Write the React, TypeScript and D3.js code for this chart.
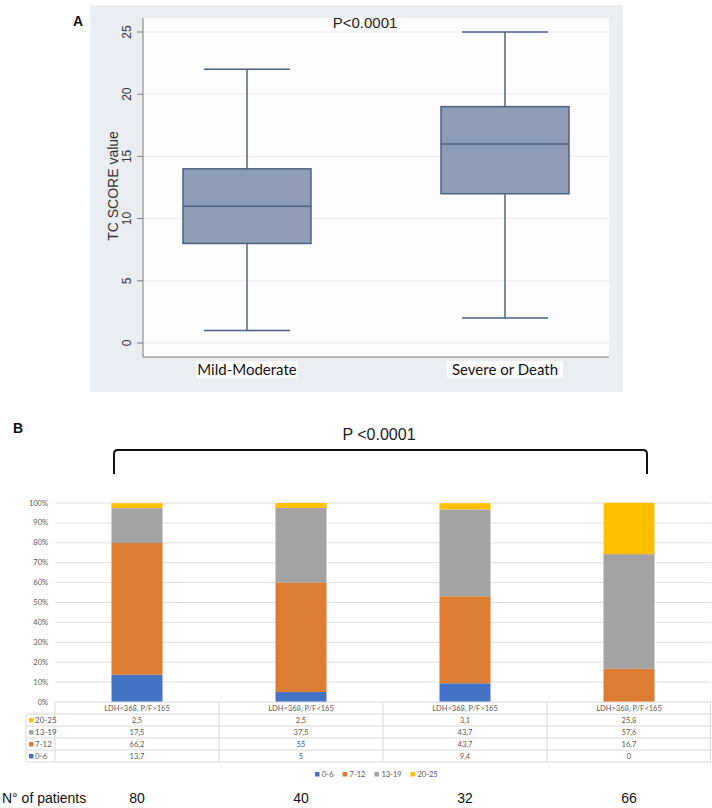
import React from "react";
import * as d3 from "d3";

// ---------- Panel A data ----------
const boxGroups = ["Mild-Moderate", "Severe or Death"];
const boxMin = [1, 2];
const boxQ1 = [8, 12];
const boxMedian = [11, 16];
const boxQ3 = [14, 19];
const boxMax = [22, 25];
const yTicksA = [0, 5, 10, 15, 20, 25];
const pValueA = "P<0.0001";

// ---------- Panel B data ----------
const categoriesB = ["LDH<368, P/F>165", "LDH<368, P/F<165", "LDH>368, P/F>165", "LDH>368, P/F<165"];
const seriesNames = ["0-6", "7-12", "13-19", "20-25"];
const s06 = [13.7, 5, 9.4, 0];
const s712 = [66.2, 55, 43.7, 16.7];
const s1319 = [17.5, 37.5, 43.7, 57.6];
const s2025 = [2.5, 2.5, 3.1, 25.8];
const seriesLabels = [["2,5", "2,5", "3,1", "25,8"], ["17,5", "37,5", "43,7", "57,6"], ["66,2", "55", "43,7", "16,7"], ["13,7", "5", "9,4", "0"]];
const tableRowNames = ["20-25", "13-19", "7-12", "0-6"];
const patients = [80, 40, 32, 66];
const yTicksB = [0, 10, 20, 30, 40, 50, 60, 70, 80, 90, 100];
const pValueB = "P <0.0001";

const colors: Record<string, string> = {
  "0-6": "#4472C4",
  "7-12": "#DD7D33",
  "13-19": "#A3A3A3",
  "20-25": "#FFC000",
};

const arial = "'Liberation Sans', Arial, sans-serif";
const calibri = "Lato, 'Open Sans', sans-serif";

function PanelA() {
  const left = 143, right = 609, top = 18, bottom = 357;
  const y = d3.scaleLinear().domain([0, 25]).range([343, 32]);
  const x = d3.scalePoint<string>().domain(boxGroups).range([left, right]).padding(0.403);
  const boxW = 128, capW = 86;
  const stroke = "#4a6282";
  return (
    <g>
      <rect x={90} y={5} width={533} height={387} fill="#EAEEF2" />
      <rect x={left} y={top} width={right - left} height={bottom - top} fill="#fdfdfd" />
      {yTicksA.map((t) => (
        <g key={t}>
          <line x1={left} x2={right} y1={y(t)} y2={y(t)} stroke="#ececec" strokeWidth={1} />
          <line x1={137} x2={left} y1={y(t)} y2={y(t)} stroke="#7a7a7a" strokeWidth={1} />
          <text
            transform={`translate(131,${y(t)}) rotate(-90)`}
            textAnchor="middle"
            fontFamily={arial}
            fontSize={12}
            fill="#333"
          >
            {t}
          </text>
        </g>
      ))}
      <line x1={left} x2={left} y1={top} y2={bottom} stroke="#7a7a7a" strokeWidth={1} />
      <line x1={left} x2={right} y1={bottom} y2={bottom} stroke="#7a7a7a" strokeWidth={1} />
      <text
        transform={`translate(118,186) rotate(-90)`}
        textAnchor="middle"
        fontFamily={arial}
        fontSize={14}
        fill="#333"
      >
        TC SCORE value
      </text>
      {boxGroups.map((g, i) => {
        const cx = x(g) as number;
        const bgW = g.length * 7.6 + 2;
        return (
          <g key={g}>
            <line x1={cx} x2={cx} y1={y(boxMax[i])} y2={y(boxQ3[i])} stroke={stroke} strokeWidth={1.5} />
            <line x1={cx} x2={cx} y1={y(boxQ1[i])} y2={y(boxMin[i])} stroke={stroke} strokeWidth={1.5} />
            <line x1={cx - capW / 2} x2={cx + capW / 2} y1={y(boxMax[i])} y2={y(boxMax[i])} stroke={stroke} strokeWidth={1.5} />
            <line x1={cx - capW / 2} x2={cx + capW / 2} y1={y(boxMin[i])} y2={y(boxMin[i])} stroke={stroke} strokeWidth={1.5} />
            <rect
              x={cx - boxW / 2}
              y={y(boxQ3[i])}
              width={boxW}
              height={y(boxQ1[i]) - y(boxQ3[i])}
              fill="#8f9db7"
              stroke={stroke}
              strokeWidth={1.5}
            />
            <line x1={cx - boxW / 2} x2={cx + boxW / 2} y1={y(boxMedian[i])} y2={y(boxMedian[i])} stroke={stroke} strokeWidth={1.5} />
            <rect x={cx - bgW / 2} y={361} width={bgW} height={17} fill="#ffffff" />
            <text x={cx} y={375} textAnchor="middle" fontFamily={calibri} fontSize={15} fill="#111">
              {g}
            </text>
          </g>
        );
      })}
      <text x={365} y={28} textAnchor="middle" fontFamily={arial} fontSize={15} fill="#222">
        {pValueA}
      </text>
      <text x={73} y={26} fontFamily={arial} fontSize={14} fontWeight="bold" fill="#111">
        A
      </text>
    </g>
  );
}

function PanelB() {
  const left = 55, right = 711, top = 503, bottom = 702;
  const x = d3.scaleBand<string>().domain(categoriesB).range([left, right]);
  const y = d3.scaleLinear().domain([0, 100]).range([bottom, top]);
  const barW = 51;
  const rows = categoriesB.map((c, i) => ({
    cat: c,
    "0-6": s06[i],
    "7-12": s712[i],
    "13-19": s1319[i],
    "20-25": s2025[i],
  }));
  const stack = d3.stack<any>().keys(seriesNames)(rows);
  const tickColor = "#595959";
  const tableRowH = 12;
  const tableTop = bottom;
  const legendItems = seriesNames.map((s, i) => ({ s, i }));
  let lx = 315;
  const legendPos = legendItems.map((it) => {
    const pos = lx;
    lx += 5 + 3 + it.s.length * 4.2 + 7;
    return pos;
  });
  return (
    <g>
      <text x={13} y={433} fontFamily={arial} fontSize={14} fontWeight="bold" fill="#111">
        B
      </text>
      <text x={379} y={440} textAnchor="middle" fontFamily={arial} fontSize={16} fill="#222">
        {pValueB}
      </text>
      <path
        d={`M114,474 L114,454 Q114,450 118,450 L643,450 Q647,450 647,454 L647,474`}
        fill="none"
        stroke="#111"
        strokeWidth={2}
      />
      {yTicksB.map((t) => (
        <g key={t}>
          {t > 0 && <line x1={left} x2={right} y1={y(t)} y2={y(t)} stroke="#e0e0e0" strokeWidth={1} />}
          <text x={48} y={y(t) + 2.5} textAnchor="end" fontFamily={calibri} fontSize={7.5} fill={tickColor}>
            {t}%
          </text>
        </g>
      ))}
      {stack.map((layer) => (
        <g key={layer.key} fill={colors[layer.key]}>
          {layer.map((d, j) => (
            <rect
              key={j}
              x={(x(categoriesB[j]) as number) + x.bandwidth() / 2 - barW / 2}
              y={y(d[1])}
              width={barW}
              height={Math.max(0, y(d[0]) - y(d[1]))}
            />
          ))}
        </g>
      ))}
      {/* data table */}
      <line x1={left} x2={right} y1={tableTop} y2={tableTop} stroke="#d9d9d9" strokeWidth={1} />
      {[1, 2, 3, 4, 5].map((r) => (
        <line
          key={r}
          x1={26}
          x2={right}
          y1={tableTop + r * tableRowH}
          y2={tableTop + r * tableRowH}
          stroke="#d9d9d9"
          strokeWidth={1}
        />
      ))}
      <line x1={26} x2={26} y1={tableTop + tableRowH} y2={tableTop + 5 * tableRowH} stroke="#d9d9d9" strokeWidth={1} />
      {categoriesB.map((c) => (
        <line
          key={c}
          x1={x(c) as number}
          x2={x(c) as number}
          y1={tableTop}
          y2={tableTop + 5 * tableRowH}
          stroke="#d9d9d9"
          strokeWidth={1}
        />
      ))}
      <line x1={right - 0.5} x2={right - 0.5} y1={tableTop} y2={tableTop + 5 * tableRowH} stroke="#d9d9d9" strokeWidth={1} />
      {categoriesB.map((c) => (
        <text
          key={c}
          x={(x(c) as number) + x.bandwidth() / 2}
          y={tableTop + 8.5}
          textAnchor="middle"
          fontFamily={calibri}
          fontSize={7.5}
          fill={tickColor}
        >
          {c}
        </text>
      ))}
      {tableRowNames.map((rn, r) => (
        <g key={rn}>
          <rect x={29} y={tableTop + (r + 1) * tableRowH + 4} width={4.5} height={4.5} fill={colors[rn]} />
          <text x={35} y={tableTop + (r + 1) * tableRowH + 8.8} fontFamily={calibri} fontSize={8} fill={tickColor}>
            {rn}
          </text>
          {categoriesB.map((c, j) => (
            <text
              key={c}
              x={(x(c) as number) + x.bandwidth() / 2}
              y={tableTop + (r + 1) * tableRowH + 8.8}
              textAnchor="middle"
              fontFamily={calibri}
              fontSize={7.5}
              fill={tickColor}
            >
              {seriesLabels[r][j]}
            </text>
          ))}
        </g>
      ))}
      {/* legend */}
      {legendItems.map((it, k) => (
        <g key={it.s}>
          <rect x={legendPos[k]} y={772} width={4.5} height={4.5} fill={colors[it.s]} />
          <text x={legendPos[k] + 7} y={777} fontFamily={calibri} fontSize={7.5} fill={tickColor}>
            {it.s}
          </text>
        </g>
      ))}
      {/* patients row */}
      <text x={2} y={803} fontFamily={arial} fontSize={14} fill="#111">
        N° of patients
      </text>
      {categoriesB.map((c, j) => (
        <text
          key={c}
          x={(x(c) as number) + x.bandwidth() / 2}
          y={803}
          textAnchor="middle"
          fontFamily={arial}
          fontSize={14}
          fill="#111"
        >
          {patients[j]}
        </text>
      ))}
    </g>
  );
}

export default function App() {
  return (
    <svg
      width={712}
      height={808}
      style={{ position: "absolute", left: 0, top: 0, background: "#ffffff" }}
    >
      <rect x={0} y={0} width={712} height={808} fill="#ffffff" />
      <PanelA />
      <PanelB />
    </svg>
  );
}
